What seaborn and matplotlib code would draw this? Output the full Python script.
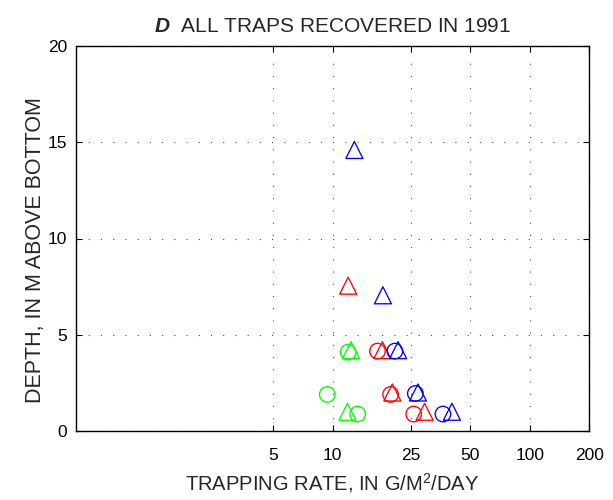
import numpy as np
import matplotlib
matplotlib.use("Agg")
import matplotlib.pyplot as plt
import pandas as pd
import seaborn as sns

# Data ------------------------------------------------------------------------
green_circle_x = [12.0, 9.4, 13.4]
green_circle_y = [4.1, 1.9, 0.88]
green_tri_x = [12.4, 11.9]
green_tri_y = [4.2, 1.0]

red_circle_x = [16.9, 19.7, 25.8]
red_circle_y = [4.15, 1.9, 0.88]
red_tri_x = [12.0, 17.9, 20.1, 29.3]
red_tri_y = [7.55, 4.2, 2.0, 1.0]

blue_circle_x = [20.7, 26.3, 36.3]
blue_circle_y = [4.15, 1.95, 0.88]
blue_tri_x = [12.9, 18.0, 21.5, 27.1, 40.3]
blue_tri_y = [14.6, 7.05, 4.2, 2.0, 1.0]

x_ticks = [5, 10, 25, 50, 100, 200]
y_ticks = [0, 5, 10, 15, 20]

groups = [
    (green_circle_x, green_circle_y, "#00ff00", "o"),
    (green_tri_x, green_tri_y, "#00ff00", "^"),
    (red_circle_x, red_circle_y, "#ff0000", "o"),
    (red_tri_x, red_tri_y, "#ff0000", "^"),
    (blue_circle_x, blue_circle_y, "#0000ff", "o"),
    (blue_tri_x, blue_tri_y, "#0000ff", "^"),
]

# Style ------------------------------------------------------------------------
sns.set_theme(style="ticks")
plt.rcParams["font.family"] = ["Liberation Sans", "DejaVu Sans"]
plt.rcParams["mathtext.fontset"] = "custom"
plt.rcParams["mathtext.rm"] = "Liberation Sans"
plt.rcParams["mathtext.it"] = "Liberation Sans:italic"
plt.rcParams["mathtext.bf"] = "Liberation Sans:bold"
plt.rcParams["mathtext.bfit"] = "Liberation Sans:italic:bold"

fig = plt.figure(figsize=(6.13, 5.0), dpi=100)
ax = fig.add_axes([0.124, 0.138, 0.837, 0.770])

for xs, ys, col, mk in groups:
    df = pd.DataFrame({"rate": xs, "depth": ys})
    size = 150 if mk == "^" else 125
    sns.scatterplot(data=df, x="rate", y="depth", marker=mk, s=size,
                    color=col, facecolors="none", edgecolors=col,
                    linewidths=0.95, ax=ax, zorder=3)

ax.set_xscale("log")
ax.set_xlim(0.5, 200)
ax.set_ylim(0, 20)
ax.set_xticks(x_ticks)
ax.set_xticklabels([str(t) for t in x_ticks])
ax.minorticks_off()
ax.set_yticks(y_ticks)

ax.grid(True, color="0.3", linestyle=(0, (1, 10)), linewidth=0.8)
ax.tick_params(direction="in", length=4, width=0.8, top=True, right=True,
               labelsize=12.5, colors="black")
ax.tick_params(axis="x", pad=12)
ax.tick_params(axis="y", pad=6.5)
for sp in ax.spines.values():
    sp.set_linewidth(1.0)
    sp.set_color("black")

ax.set_xlabel(r"TRAPPING RATE, IN G/M$^{2}$/DAY", fontsize=14.5, labelpad=6)
ax.set_ylabel("DEPTH, IN M ABOVE BOTTOM", fontsize=15.5)
ax.yaxis.set_label_coords(-0.059, 0.47)
ax.set_title(r"$\mathbfit{D}$  ALL TRAPS RECOVERED IN 1991", fontsize=15, pad=10)

fig.savefig("out.png", dpi=100)
